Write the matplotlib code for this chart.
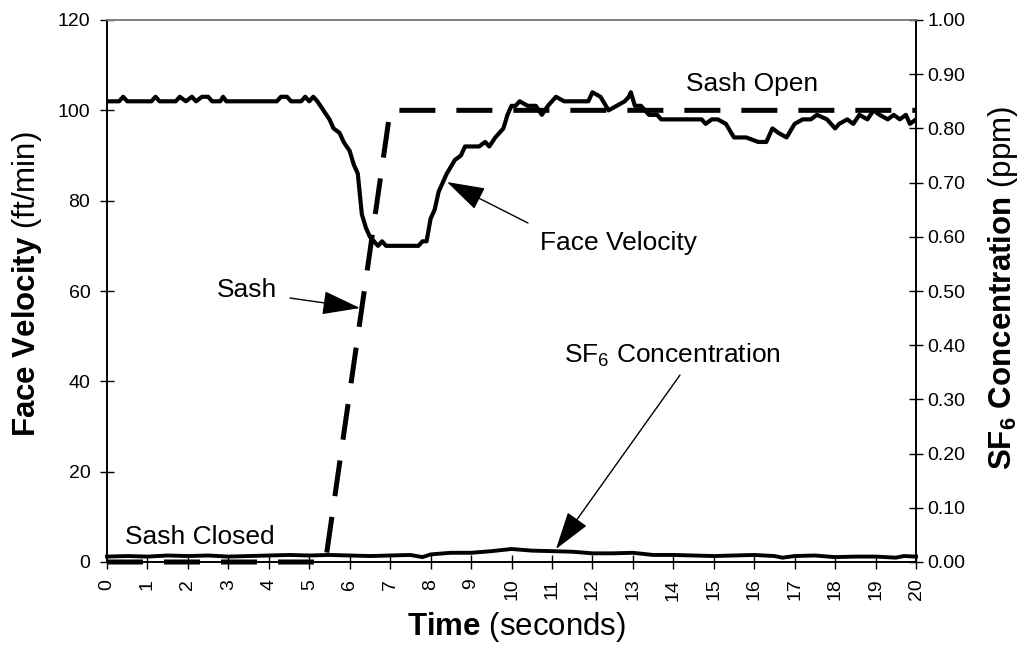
import matplotlib
matplotlib.use("Agg")
import matplotlib.pyplot as plt
import numpy as np

plt.rcParams['font.family'] = ['Liberation Sans', 'DejaVu Sans']
plt.rcParams['mathtext.fontset'] = 'custom'
plt.rcParams['mathtext.rm'] = 'Liberation Sans'
plt.rcParams['mathtext.bf'] = 'Liberation Sans:bold'
plt.rcParams['mathtext.it'] = 'Liberation Sans:italic'

# ---- data ----
fv_time = [0.0, 0.3, 0.4, 0.5, 1.1, 1.2, 1.3, 1.7, 1.8, 1.95, 2.1, 2.2, 2.35, 2.5, 2.6,
           2.8, 2.87, 2.95, 4.2, 4.3, 4.45, 4.55, 4.8, 4.9, 5.0, 5.1, 5.2, 5.35, 5.5,
           5.6, 5.75, 5.85, 6.0, 6.1, 6.2, 6.3, 6.4, 6.5, 6.6, 6.7, 6.8, 6.9, 7.0, 7.5,
           7.7, 7.8, 7.9, 8.0, 8.1, 8.2, 8.4, 8.6, 8.75, 8.85, 9.0, 9.2, 9.35, 9.45,
           9.6, 9.7, 9.8, 9.9, 10.0, 10.1, 10.2, 10.4, 10.6, 10.75, 10.9, 11.1, 11.3,
           11.9, 12.0, 12.2, 12.4, 12.6, 12.8, 12.9, 12.95, 13.05, 13.2, 13.4, 13.6,
           13.7, 14.0, 14.4, 14.7, 14.8, 14.95, 15.1, 15.3, 15.5, 15.8, 16.1, 16.3,
           16.45, 16.6, 16.8, 17.0, 17.2, 17.4, 17.55, 17.8, 18.0, 18.1, 18.3, 18.45,
           18.6, 18.8, 18.95, 19.1, 19.3, 19.45, 19.6, 19.75, 19.85, 20.0]
fv_value = [102, 102, 103, 102, 102, 103, 102, 102, 103, 102, 103, 102, 103, 103, 102,
            102, 103, 102, 102, 103, 103, 102, 102, 103, 102, 103, 102, 100, 98,
            96, 95, 93, 91, 88, 86, 77, 74, 72, 71, 70, 71, 70, 70, 70,
            70, 71, 71, 76, 78, 82, 86, 89, 90, 92, 92, 92, 93, 92,
            94, 95, 96, 99, 101, 101, 102, 101, 101, 99, 101, 103, 102,
            102, 104, 103, 100, 101, 102, 103, 104, 101, 101, 99, 99,
            98, 98, 98, 98, 97, 98, 98, 97, 94, 94, 93, 93,
            96, 95, 94, 97, 98, 98, 99, 98, 96, 97, 98, 97,
            99, 98, 100, 99, 98, 99, 98, 99, 97, 98]

sash_time = [0.0, 5.4, 7.0, 20.0]
sash_value = [0, 0, 100, 100]

sf6_time = [0.0, 0.5, 1.0, 1.5, 2.0, 2.5, 3.0, 3.5, 4.0, 4.5, 5.0, 5.5, 6.0, 6.5, 7.0,
            7.5, 7.8, 8.0, 8.5, 9.0, 9.5, 10.0, 10.5, 11.0, 11.5, 12.0, 12.5, 13.0,
            13.5, 14.0, 14.5, 15.0, 15.5, 16.0, 16.5, 16.7, 17.0, 17.5, 18.0, 18.5,
            19.0, 19.5, 19.7, 20.0]
sf6_value = [0.010, 0.011, 0.010, 0.012, 0.011, 0.012, 0.010, 0.011, 0.012, 0.013,
             0.012, 0.013, 0.012, 0.011, 0.012, 0.013, 0.009, 0.014, 0.017, 0.017,
             0.020, 0.024, 0.021, 0.020, 0.019, 0.016, 0.016, 0.017, 0.013, 0.013,
             0.012, 0.011, 0.012, 0.013, 0.011, 0.008, 0.011, 0.012, 0.009, 0.010,
             0.010, 0.008, 0.011, 0.010]

x_ticks = list(range(0, 21))
left_ticks = [0, 20, 40, 60, 80, 100, 120]
right_ticks = [0.0, 0.1, 0.2, 0.3, 0.4, 0.5, 0.6, 0.7, 0.8, 0.9, 1.0]

# ---- figure ----
fig = plt.figure(figsize=(10.29, 6.52), dpi=100)
ax = fig.add_axes([107/1029, 1 - 562/652, (916 - 107)/1029, (562 - 20)/652])
ax2 = ax.twinx()

ax.set_xlim(0, 20)
ax.set_ylim(0, 120)
ax2.set_ylim(0, 1.0)

ax.plot(fv_time, fv_value, color='black', lw=3.0, solid_joinstyle='round',
        solid_capstyle='round', zorder=3)
sash_line, = ax.plot(sash_time, sash_value, color='black', lw=3.6, zorder=4,
                     clip_on=False)
sash_line.set_dashes((36/1.389/3.6, 21/1.389/3.6))
ax2.plot(sf6_time, sf6_value, color='black', lw=2.8, zorder=3,
         solid_joinstyle='round', clip_on=False)

ax.set_xticks(x_ticks)
ax.set_xticklabels([str(t) for t in x_ticks], rotation=90, fontsize=14)
ax.set_yticks(left_ticks)
ax.set_yticklabels([str(v) for v in left_ticks], fontsize=14)
ax2.set_yticks(right_ticks)
ax2.set_yticklabels([f"{v:.2f}" for v in right_ticks], fontsize=14)

ax.tick_params(axis='both', direction='inout', length=10, width=1.0, color='black')
ax.tick_params(axis='x', pad=7)
ax.tick_params(axis='y', pad=7)
ax2.tick_params(axis='y', direction='inout', length=10, width=1.0, pad=3)

for a in (ax, ax2):
    a.spines['top'].set_color('#808080')
    a.spines['top'].set_linewidth(1.2)
    for s in ('left', 'right', 'bottom'):
        a.spines[s].set_color('black')
        a.spines[s].set_linewidth(1.2)

# ---- axis titles ----
fig.text(516/1029, 1 - 627/652, r"$\mathbf{Time}$ (seconds)", fontsize=22.5,
         ha='center', va='center')
fig.text(27/1029, 1 - 284/652, r"$\mathbf{Face\ Velocity}$ (ft/min)", fontsize=22.5,
         ha='center', va='center', rotation=90)
fig.text(1003/1029, 1 - 288/652, r"$\mathbf{SF_{6}\ Concentration}$ (ppm)",
         fontsize=22.5, ha='center', va='center', rotation=90)

# ---- annotations ----
def px2data(xp, yp):
    return ((xp - 107) / 40.45, (562 - yp) / 4.517)

ax.text(*px2data(752, 84), "Sash Open", fontsize=19, ha='center', va='center')
ax.text(*px2data(200, 537), "Sash Closed", fontsize=19, ha='center', va='center')

arrow_kw = dict(arrowstyle='-|>,head_length=0.8,head_width=0.25', color='black',
                lw=1.0, mutation_scale=30, shrinkA=0, shrinkB=0)
ax.annotate("", xy=px2data(447, 182), xytext=px2data(528, 223), arrowprops=arrow_kw)
ax.text(*px2data(618, 243), "Face Velocity", fontsize=19, ha='center', va='center')

ax.annotate("", xy=px2data(360, 308), xytext=px2data(290, 298), arrowprops=arrow_kw)
ax.text(*px2data(247, 290), "Sash", fontsize=19, ha='center', va='center')

ax.annotate("", xy=px2data(556, 549), xytext=px2data(680, 375), arrowprops=arrow_kw)
ax.text(*px2data(672, 355), r"SF$_{6}$ Concentration", fontsize=19, ha='center',
        va='center')

fig.savefig("out.png", dpi=100)
